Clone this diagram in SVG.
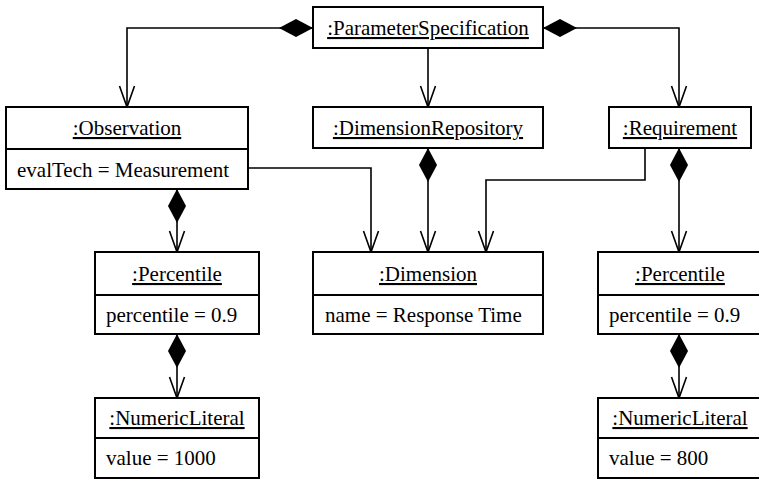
<svg xmlns="http://www.w3.org/2000/svg" width="759" height="479" viewBox="0 0 759 479">
  <style>
    .box { fill: #fff; stroke: #000; stroke-width: 2; }
    .div { stroke: #000; stroke-width: 2; }
    .conn { fill: none; stroke: #000; stroke-width: 1.6; }
    text { font-family: "Liberation Serif", "DejaVu Serif", "Noto Serif", serif; font-size: 21px; fill: #000; }
    .title { text-anchor: middle; text-decoration: underline; }
  </style>
  <defs>
    <marker id="diamond" markerUnits="userSpaceOnUse" orient="auto" refX="0" refY="0" markerWidth="40" markerHeight="20" viewBox="0 -10 40 20" overflow="visible">
      <path d="M0,0 L17,-9 L34,0 L17,9 Z" fill="#000" stroke="none"/>
    </marker>
    <marker id="arrow" markerUnits="userSpaceOnUse" orient="auto" refX="0" refY="0" markerWidth="24" markerHeight="18" viewBox="-24 -9 24 18" overflow="visible">
      <path d="M-21,-7.5 L0,0 L-21,7.5" fill="none" stroke="#000" stroke-width="1.6"/>
    </marker>
  </defs>

  <g id="connectors">
    <path class="conn" d="M313,28 H127 V107" marker-start="url(#diamond)" marker-end="url(#arrow)"/>
    <path class="conn" d="M428,48 V107" marker-end="url(#arrow)"/>
    <path class="conn" d="M543,28 H679 V107" marker-start="url(#diamond)" marker-end="url(#arrow)"/>
    <path class="conn" d="M177,189 V252" marker-start="url(#diamond)" marker-end="url(#arrow)"/>
    <path class="conn" d="M177,334 V398" marker-start="url(#diamond)" marker-end="url(#arrow)"/>
    <path class="conn" d="M428,148 V252" marker-start="url(#diamond)" marker-end="url(#arrow)"/>
    <path class="conn" d="M248,168 H371 V252" marker-end="url(#arrow)"/>
    <path class="conn" d="M645,148 V180 H486 V252" marker-end="url(#arrow)"/>
    <path class="conn" d="M679,148 V252" marker-start="url(#diamond)" marker-end="url(#arrow)"/>
    <path class="conn" d="M679,334 V398" marker-start="url(#diamond)" marker-end="url(#arrow)"/>
  </g>

  <g id="parameterSpecification">
    <rect class="box" x="313" y="7" width="230" height="41"/>
    <text class="title" x="428" y="35">:ParameterSpecification</text>
  </g>

  <g id="observation">
    <rect class="box" x="6" y="107" width="242" height="82"/>
    <line class="div" x1="6" y1="149" x2="248" y2="149"/>
    <text class="title" x="127" y="135">:Observation</text>
    <text x="17" y="177">evalTech = Measurement</text>
  </g>

  <g id="dimensionRepository">
    <rect class="box" x="313" y="107" width="230" height="41"/>
    <text class="title" x="428" y="135">:DimensionRepository</text>
  </g>

  <g id="requirement">
    <rect class="box" x="609" y="107" width="142" height="41"/>
    <text class="title" x="680" y="135">:Requirement</text>
  </g>

  <g id="dimension">
    <rect class="box" x="313" y="252" width="230" height="82"/>
    <line class="div" x1="313" y1="295" x2="543" y2="295"/>
    <text class="title" x="428" y="281">:Dimension</text>
    <text x="325" y="322">name = Response Time</text>
  </g>

  <g id="observationPercentile">
    <rect class="box" x="95" y="252" width="164" height="82"/>
    <line class="div" x1="95" y1="295" x2="259" y2="295"/>
    <text class="title" x="177" y="281">:Percentile</text>
    <text x="106" y="322">percentile = 0.9</text>
  </g>

  <g id="observationValue">
    <rect class="box" x="95" y="398" width="164" height="80"/>
    <line class="div" x1="95" y1="438" x2="259" y2="438"/>
    <text class="title" x="177" y="425">:NumericLiteral</text>
    <text x="106" y="465">value = 1000</text>
  </g>

  <g id="requirementPercentile">
    <rect class="box" x="598" y="252" width="164" height="82"/>
    <line class="div" x1="598" y1="295" x2="762" y2="295"/>
    <text class="title" x="680" y="281">:Percentile</text>
    <text x="609" y="322">percentile = 0.9</text>
  </g>

  <g id="requirementValue">
    <rect class="box" x="598" y="398" width="164" height="80"/>
    <line class="div" x1="598" y1="438" x2="762" y2="438"/>
    <text class="title" x="680" y="425">:NumericLiteral</text>
    <text x="609" y="465">value = 800</text>
  </g>
</svg>
